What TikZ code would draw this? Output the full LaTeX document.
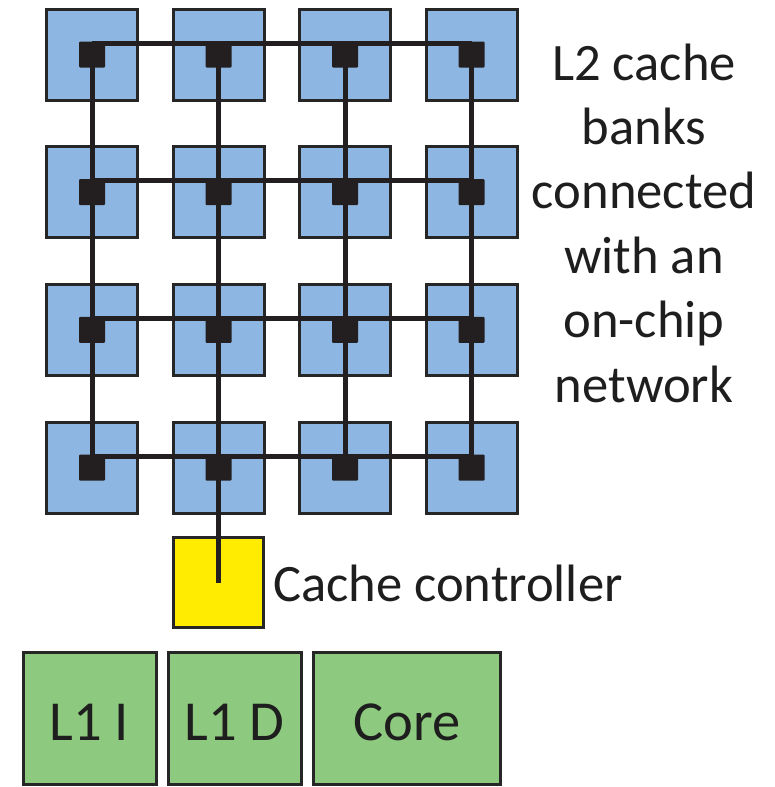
\documentclass[tikz,border=0pt]{standalone}
\usepackage{fontspec}
\setmainfont{Carlito}
\definecolor{bankblue}{RGB}{141,183,226}
\definecolor{unitgreen}{RGB}{141,201,126}
\definecolor{ctrlyellow}{RGB}{255,236,0}
\definecolor{edge}{RGB}{38,38,38}
\definecolor{routerblack}{RGB}{35,31,32}
\definecolor{textdark}{RGB}{30,30,30}
\begin{document}
\begin{tikzpicture}[x=1pt,y=-1pt,
  bank/.style={draw=edge,line width=3pt,fill=bankblue,minimum size=91pt,inner sep=0pt},
  router/.style={fill=routerblack,minimum size=26pt,inner sep=0pt,rounded corners=1pt},
  link/.style={draw=routerblack,line width=5pt},
  ctrl/.style={draw=edge,line width=3pt,fill=ctrlyellow,minimum size=90pt,inner sep=0pt},
  unit/.style={draw=edge,line width=3pt,fill=unitgreen,minimum height=132pt,inner sep=0pt,text height=43pt,text depth=0pt,text=textdark,font=\fontsize{56.5}{60}\selectfont},
  lbl/.style={font=\fontsize{52.6}{64.4}\selectfont,inner sep=0pt,text=textdark}]
\useasboundingbox (0,0) rectangle (774,787);
% L2 banks
\foreach \r/\y in {1/54.5,2/192.2,3/329.8,4/467.5}
  \foreach \c/\x in {1/92,2/218.5,3/345,4/471.5}
    \node[bank] (b-\r-\c) at (\x,\y) {};
% cache controller
\node[ctrl] (cc) at (218.5,582.5) {};
% network links
\foreach \r in {1,...,4}
  \draw[link] ([yshift=11.5pt]b-\r-1.center) -- ([yshift=11.5pt]b-\r-4.center);
\foreach \c in {1,3,4}
  \draw[link] ([yshift=11.5pt]b-1-\c.center) -- (b-4-\c.center);
\draw[link] ([yshift=11.5pt]b-1-2.center) -- (cc.center);
% routers
\foreach \r in {1,...,4}
  \foreach \c in {1,...,4}
    \node[router] (s-\r-\c) at (b-\r-\c.center) {};
% labels
\node[lbl,align=center,anchor=base] (l2txt) at (644,402) {L2 cache\\banks\\connected\\with an\\on-chip\\network};
\node[lbl,anchor=base west] (cctxt) at (273,601) {Cache controller};
% core units
\node[unit,minimum width=133pt] (l1i) at (89.5,718.5) {L1 I};
\node[unit,minimum width=133pt] (l1d) at (234.5,718.5) {L1 D};
\node[unit,minimum width=187pt] (core) at (407,718.5) {Core};
\end{tikzpicture}
\end{document}
